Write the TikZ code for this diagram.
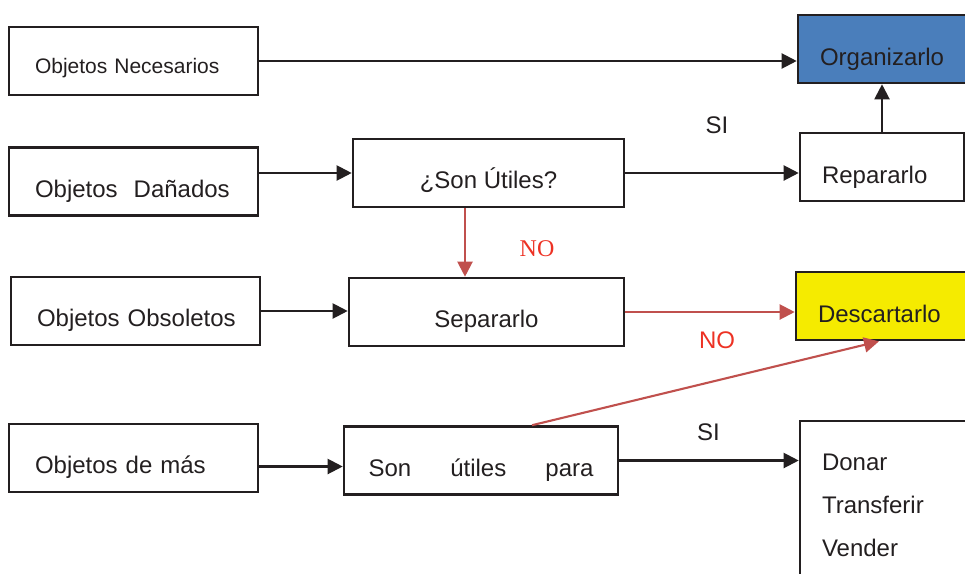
\documentclass[tikz,border=0pt]{standalone}
\usepackage{fontspec}
\setmainfont{Liberation Sans}
\newfontfamily\serifno{Liberation Serif}
\usetikzlibrary{arrows.meta}
\definecolor{orgblue}{RGB}{74,126,187}
\definecolor{desyellow}{RGB}{245,235,0}
\definecolor{noarrow}{RGB}{192,80,77}
\definecolor{notext}{RGB}{237,50,36}
\definecolor{ink}{RGB}{35,31,32}
\begin{document}
\begin{tikzpicture}[x=1pt,y=-1pt,
  box/.style={draw=ink,line width=2.6pt,rectangle,minimum height=68pt,text=ink,font=\fontsize{24}{28}\selectfont},
  onebase/.style={text height=31pt,text depth=0pt},
  lbox/.style={box,onebase,align=left,inner xsep=26pt,text width=197pt},
  rbox/.style={box,align=left,inner xsep=22pt,text width=#1},
  cbox/.style={box,onebase,minimum width=#1},
  arr/.style={draw=ink,line width=2.1pt,-{Triangle[length=15pt,width=15pt]}},
  redarr/.style={arr,draw=noarrow},
  lab/.style={text=ink,anchor=base,inner sep=0pt,font=\fontsize{24}{28}\selectfont}]
\useasboundingbox (0,0) rectangle (965,573);
\clip (0,0) rectangle (965,573);
\node[lbox,text height=24pt,font=\fontsize{21}{25}\selectfont](nec) at(133.5,61){\mbox{Objetos Necesarios}};
\node[lbox](dan) at(133.5,181.5){\mbox{Objetos\ \ Dañados}};
\node[lbox](obs) at(135.5,311){\mbox{Objetos Obsoletos}};
\node[lbox](mas) at(133.5,458){\mbox{Objetos de más}};
\node[cbox=271pt](son) at(488.5,173){¿Son Útiles?};
\node[cbox=275pt](sep) at(486.5,312){Separarlo};
\node[cbox=274pt](util) at(481,460.5){\hbox to 225pt{Son\hfill útiles\hfill para}};
\node[rbox=125pt,onebase,text height=32pt,fill=orgblue](org) at(882.5,49){Organizarlo};
\node[rbox=120pt,onebase,text height=32pt](rep) at(882,167){Repararlo};
\node[rbox=127pt,onebase,text height=32pt,fill=desyellow](des) at(881.5,306){Descartarlo};
\node[rbox=123pt,minimum height=169pt,font=\fontsize{24}{43}\selectfont](don) at(883.5,505.4){Donar\\Transferir\\Vender};
\node[lab](si1) at(717,133){SI};
\node[lab,text=notext,font=\fontsize{24}{28}\serifno](no1) at(537,256){NO};
\node[lab,text=notext](no2) at(717,348){NO};
\node[lab](si2) at(708.5,440){SI};
\draw[arr] (nec.east) -- (nec.east -| org.west);
\draw[arr] (dan.east |- son.west) -- (son.west);
\draw[arr] (son.east) -- (son.east -| rep.west);
\draw[arr] (rep.north) -- (rep.north |- org.south);
\draw[redarr] ([xshift=-23.5pt]son.south) -- ([xshift=-23.5pt]son.south |- sep.north);
\draw[arr] (obs.east) -- (obs.east -| sep.west);
\draw[redarr] (sep.east) -- (sep.east -| des.west);
\draw[arr] ([yshift=-8.5pt]mas.east) -- ([yshift=-8.5pt]mas.east -| util.west);
\draw[redarr] ([xshift=51pt]util.north) -- ([xshift=-2.5pt]des.south);
\draw[arr] (util.east) -- (util.east -| don.west);
\end{tikzpicture}
\end{document}
